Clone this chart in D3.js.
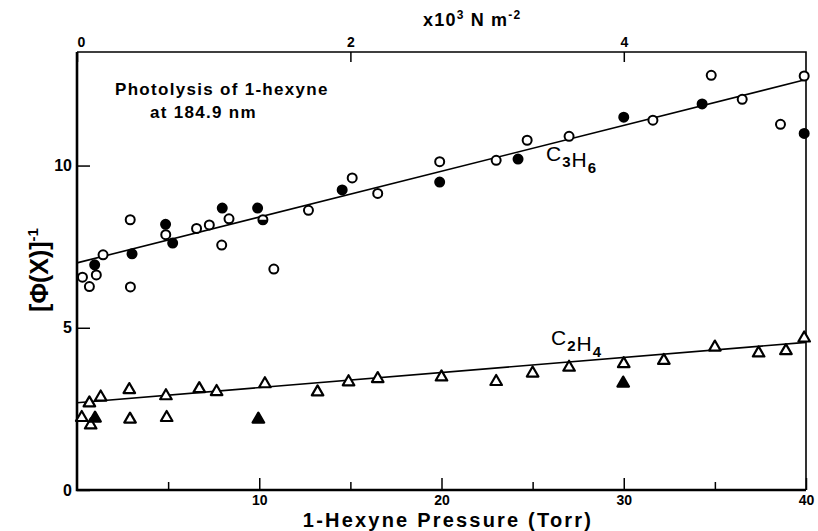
<!DOCTYPE html>
<html>
<head>
<meta charset="utf-8">
<script src="https://cdn.jsdelivr.net/npm/d3@7"></script>
<style>
	body { margin: 0; background: #fff; }
	svg { display: block; font-family: "Liberation Sans", Arial, sans-serif; font-weight: bold; }
	.axis text { font-family: "Liberation Sans", Arial, sans-serif; font-weight: bold; fill: #000; }
</style>
</head>
<body>
<main></main>
<script>
// quantum yield reciprocal vs 1-hexyne pressure

// C3H6 points [pressure (Torr), 1/phi]
const c3h6Open = [[0.3, 6.56], [0.68, 6.27], [1.06, 6.63], [1.43, 7.25], [2.92, 8.33], [2.93, 6.26],
	[4.87, 7.87], [6.56, 8.06], [7.26, 8.17], [8.34, 8.36], [7.94, 7.55], [10.8, 6.81], [12.7, 8.62],
	[15.1, 9.62], [16.5, 9.14], [19.9, 10.12], [23.0, 10.16], [24.7, 10.78], [27.0, 10.9], [31.6, 11.4],
	[34.8, 12.78], [36.5, 12.04], [38.6, 11.27], [39.9, 12.76]];
const c3h6Filled = [[0.97, 6.94], [3.02, 7.28], [4.86, 8.19], [5.25, 7.61], [7.97, 8.69], [9.91, 8.69],
	[14.55, 9.25], [19.9, 9.49], [24.2, 10.2], [30.0, 11.49], [34.3, 11.9], [39.9, 10.99]];
const c3h6Half = [[10.2, 8.33]];
const c3h6Fit = [[0, 7.0], [40, 12.65]];

// C2H4 points
const c2h4Open = [[0.26, 2.23], [0.68, 2.68], [0.75, 2.0], [1.3, 2.86], [2.87, 3.09], [2.91, 2.18],
	[4.88, 2.9], [4.92, 2.23], [6.71, 3.12], [7.66, 3.03], [10.31, 3.27], [13.2, 3.02], [14.9, 3.33],
	[16.5, 3.43], [20.0, 3.48], [23.0, 3.34], [25.0, 3.6], [27.0, 3.78], [30.0, 3.89], [32.2, 3.99],
	[35.0, 4.4], [37.4, 4.22], [38.9, 4.29], [39.9, 4.68]];
const c2h4Filled = [[0.99, 2.21], [9.95, 2.18], [29.97, 3.29]];
const c2h4Fit = [[0, 2.69], [40, 4.55]];

// ticks
const xMajor = [10, 20, 30, 40];
const xMinor = [5, 15, 25, 35];
const yTicks = [0, 5, 10];
const topTicks = [0, 2, 4];
const torrToKPa = 0.133322;

document.addEventListener('DOMContentLoaded', function(){

	const w = 818;
	const h = 531;
	const margin = {top: 52, right: 12, bottom: 41, left: 77};

	const svg = d3.select("main")
				  .append("svg")
				  .attr("width", w)
				  .attr("height", h);

	//Scales
	const xScale = d3.scaleLinear()
					 .domain([0, 40])
					 .range([margin.left, w - margin.right]);

	const yScale = d3.scaleLinear()
					 .domain([0, 13.5])
					 .range([h - margin.bottom, margin.top]);

	const topScale = d3.scaleLinear()
					   .domain([0, 40 * torrToKPa])
					   .range([margin.left, w - margin.right]);

	//Axes (ticks pointing inward)
	svg.append("g")
	   .attr("class", "axis")
	   .attr("transform", "translate(0," + (h - margin.bottom) + ")")
	   .call(d3.axisBottom(xScale).tickValues(xMajor).tickSize(-12).tickPadding(5).tickFormat(d3.format("d")))
	   .call(g => g.selectAll("text").style("font-size", "14px"));

	svg.append("g")
	   .attr("class", "axis")
	   .attr("transform", "translate(0," + (h - margin.bottom) + ")")
	   .call(d3.axisBottom(xScale).tickValues(xMinor).tickSize(-8).tickFormat(""));

	svg.append("g")
	   .attr("class", "axis")
	   .attr("transform", "translate(" + margin.left + ",0)")
	   .call(d3.axisLeft(yScale).tickValues(yTicks).tickSize(-13).tickPadding(5))
	   .call(g => g.selectAll("text").style("font-size", "16px"));

	svg.append("g")
	   .attr("class", "axis")
	   .attr("transform", "translate(0," + margin.top + ")")
	   .call(d3.axisTop(topScale).tickValues(topTicks).tickSize(-10).tickPadding(5).tickFormat(d3.format("d")))
	   .call(g => g.selectAll("text").style("font-size", "14px").attr("dx", (d, i) => i === 0 ? 4 : 0));

	svg.selectAll(".axis .domain").remove();
	svg.selectAll(".axis line").attr("stroke-width", 1.5);

	//Frame
	const x0 = xScale(0), x1 = xScale(40), y0 = yScale(0), y1 = yScale(13.5);
	svg.append("path")
	   .attr("d", "M" + x1 + "," + y0 + "V" + y1 + "H" + x0)
	   .attr("fill", "none")
	   .attr("stroke", "#000")
	   .attr("stroke-width", 1.6);
	svg.append("path")
	   .attr("d", "M" + x0 + "," + y1 + "V" + y0 + "H" + x1)
	   .attr("fill", "none")
	   .attr("stroke", "#000")
	   .attr("stroke-width", 2.6);

	//Fit lines
	const line = d3.line()
				   .x(d => xScale(d[0]))
				   .y(d => yScale(d[1]));

	[c3h6Fit, c2h4Fit].forEach(fit => {
		svg.append("path")
		   .attr("d", line(fit))
		   .attr("fill", "none")
		   .attr("stroke", "#000")
		   .attr("stroke-width", 1.6);
	});

	//Points
	const r = 4.5;

	function circles(data, fill){
		svg.append("g")
		   .selectAll("circle")
		   .data(data)
		   .enter()
		   .append("circle")
		   .attr("cx", d => xScale(d[0]))
		   .attr("cy", d => yScale(d[1]))
		   .attr("r", r)
		   .attr("fill", fill)
		   .attr("stroke", "#000")
		   .attr("stroke-width", 2);
	}

	function triangles(data, fill){
		svg.append("g")
		   .selectAll("path")
		   .data(data)
		   .enter()
		   .append("path")
		   .attr("d", d3.symbol().type(d3.symbolTriangle).size(58))
		   .attr("transform", d => "translate(" + xScale(d[0]) + "," + yScale(d[1]) + ")")
		   .attr("fill", fill)
		   .attr("stroke", "#000")
		   .attr("stroke-width", 2.2)
		   .attr("stroke-linejoin", "round");
	}

	circles(c3h6Open, "#fff");
	circles(c3h6Filled, "#000");
	circles(c3h6Half, "#fff");

	// lower half filled
	svg.append("g")
	   .selectAll("path")
	   .data(c3h6Half)
	   .enter()
	   .append("path")
	   .attr("d", d3.arc().innerRadius(0).outerRadius(r).startAngle(Math.PI / 2).endAngle(3 * Math.PI / 2))
	   .attr("transform", d => "translate(" + xScale(d[0]) + "," + yScale(d[1]) + ")")
	   .attr("fill", "#000");

	triangles(c2h4Open, "#fff");
	triangles(c2h4Filled, "#000");

	//Labels
	function chem(x, y, parts){
		const t = svg.append("text")
					 .attr("x", x)
					 .attr("y", y)
					 .style("font-size", "21px")
					 .style("font-weight", "normal")
					 .style("letter-spacing", "1px");
		parts.forEach(p => {
			t.append("tspan").text(p[0]);
			t.append("tspan").attr("dy", 6).style("font-size", "15px").style("font-weight", "bold").text(p[1]);
			t.append("tspan").attr("dy", -6).text("");
		});
	}

	chem(546, 161, [["C", "3"], ["H", "6"]]);
	chem(551, 345, [["C", "2"], ["H", "4"]]);

	svg.append("text")
	   .attr("x", 115)
	   .attr("y", 95)
	   .style("font-size", "17px")
	   .style("letter-spacing", "1.3px")
	   .text("Photolysis of 1-hexyne");

	svg.append("text")
	   .attr("x", 150)
	   .attr("y", 118)
	   .style("font-size", "17px")
	   .style("letter-spacing", "1.3px")
	   .text("at 184.9 nm");

	const topLabel = svg.append("text")
						.attr("x", 423)
						.attr("y", 26)
						.style("font-size", "18px")
						.style("letter-spacing", "1.2px");
	topLabel.append("tspan").text("x10");
	topLabel.append("tspan").attr("dy", -7).style("font-size", "12px").text("3");
	topLabel.append("tspan").attr("dy", 7).text(" N m");
	topLabel.append("tspan").attr("dy", -7).style("font-size", "12px").text("-2");

	svg.append("text")
	   .attr("x", 448)
	   .attr("y", 527)
	   .attr("text-anchor", "middle")
	   .style("font-size", "20px")
	   .style("letter-spacing", "2.2px")
	   .text("1-Hexyne Pressure (Torr)");

	const yLabel = svg.append("text")
					  .attr("transform", "translate(48,270) rotate(-90)")
					  .attr("text-anchor", "middle")
					  .style("font-size", "25px");
	yLabel.append("tspan").text("[\u03A6(X)]");
	yLabel.append("tspan").attr("dy", -10).style("font-size", "15px").text("-1");
});
</script>
</body>
</html>
